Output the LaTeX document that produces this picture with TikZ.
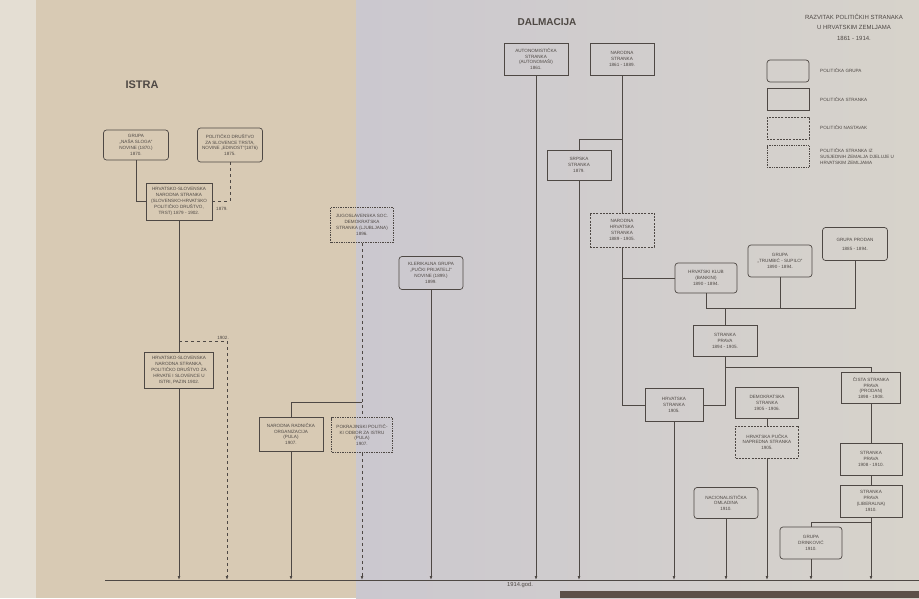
\documentclass[tikz,border=0pt]{standalone}
\usepackage{fontspec}
\setsansfont{Liberation Sans}
\usetikzlibrary{arrows.meta}
\definecolor{tinta}{RGB}{78,72,68}
\definecolor{papirL}{RGB}{216,202,180}
\definecolor{papirD}{RGB}{203,200,207}
\definecolor{papirR}{RGB}{215,211,203}
\definecolor{rub}{RGB}{228,222,211}
\definecolor{stol}{RGB}{92,80,72}

\begin{document}
\begin{tikzpicture}[x=1pt,y=-1pt,>=Latex,font=\sffamily,
  box/.style={draw=tinta,text=tinta,line width=0.7pt,align=center,inner sep=1pt,minimum width=64pt,minimum height=32pt,font=\sffamily\fontsize{4.6}{5.9}\selectfont},
  grupa/.style={box,rounded corners=3pt},
  stranka/.style={box},
  nastavak/.style={box,dash pattern=on 2pt off 1.2pt},
  susjedna/.style={box,densely dotted},
  spoj/.style={draw=tinta,line width=0.7pt},
  tok/.style={spoj,-{Latex[length=4pt,width=2.8pt]}},
  godina/.style={text=tinta,inner sep=1pt,font=\sffamily\fontsize{4.6}{5.9}\selectfont},
  legenda/.style={godina,align=left,anchor=west},
  naslov/.style={text=tinta,font=\sffamily\bfseries\fontsize{10}{12}\selectfont}]
\fill[rub] (0,0) rectangle (36,598); \fill[papirL] (36,0) rectangle (356,598);
\shade[left color=papirD,right color=papirR] (356,0) rectangle (919,598);
\fill[stol] (560,591) rectangle (919,598);
\useasboundingbox (0,0) rectangle (919,598);

\coordinate (kraj) at (105,580); \coordinate (krajD) at (919,580);
\draw[spoj] (kraj) -- (krajD);
\node[godina,anchor=north,font=\sffamily\fontsize{5.8}{7}\selectfont] (god) at (520,581) {1914.god.};

\node[naslov,font=\sffamily\bfseries\fontsize{11}{13}\selectfont] (istra) at (142,85) {ISTRA};
\node[grupa,minimum width=65pt,minimum height=30pt] (sloga) at (136,145) {GRUPA\\„NAŠA SLOGA“\\NOVINE (1870.)\\1870.};
\node[grupa,minimum width=65pt,minimum height=34pt] (edinost) at (230,145) {POLITIČKO DRUŠTVO\\ZA SLOVENCE TRSTA,\\NOVINE „EDINOST“(1876)\\1875.};
\node[stranka,minimum width=66pt,minimum height=37pt] (hsns) at (179,201.5) {HRVATSKO-SLOVENSKA\\NARODNA STRANKA\\(SLOVENSKO-HRVATSKO\\POLITIČKO DRUŠTVO,\\TRST) 1879 - 1902.};
\node[godina] (g1879) at (222,209) {1879.};
\draw[spoj] (sloga.south) |- (hsns.west); \draw[spoj,dashed] (edinost.south) |- (hsns.east);
\node[stranka,minimum width=69pt,minimum height=36pt] (hsnsIstra) at (179,370) {HRVATSKO-SLOVENSKA\\NARODNA STRANKA,\\POLITIČKO DRUŠTVO ZA\\HRVATE I SLOVENCE U\\ISTRI, PAZIN 1902.};
\draw[spoj] (hsns) -- (hsnsIstra); \draw[tok] (hsnsIstra.south) -- (hsnsIstra.south |- kraj);
\coordinate (r1902) at (179,341); \coordinate (o1902) at (227,341);
\draw[spoj,dashed] (r1902) -- (o1902); \draw[tok,dashed] (o1902) -- (o1902 |- kraj);
\node[godina,anchor=south east] (g1902) at ([xshift=3pt]o1902) {1902.};

\node[susjedna,minimum width=63pt,minimum height=35pt] (jsds) at (362,225) {JUGOSLAVENSKA SOC.\\DEMOKRATSKA\\STRANKA (LJUBLJANA)\\1896.};
\node[susjedna,minimum width=61pt,minimum height=35pt] (odbor) at (362,435) {POKRAJINSKI POLITIČ-\\KI ODBOR ZA ISTRU\\(PULA)\\1907.};
\node[stranka,minimum width=64pt,minimum height=34pt] (radnicka) at (291,434) {NARODNA RADNIČKA\\ORGANIZACIJA\\(PULA)\\1907.};
\coordinate (g1907) at (362,402);
\draw[spoj,dashed] (jsds) -- (odbor); \draw[spoj] (g1907) -| (radnicka.north);
\draw[tok] (radnicka.south) -- (radnicka.south |- kraj); \draw[tok,dashed] (odbor.south) -- (odbor.south |- kraj);
\node[grupa,minimum width=64pt,minimum height=33pt] (prijatelj) at (431,273) {KLERIKALNA GRUPA\\„PUČKI PRIJATELJ“\\NOVINE (1899.)\\1899.};
\draw[tok] (prijatelj.south) -- (prijatelj.south |- kraj);

\node[naslov] (dalmacija) at (547,22) {DALMACIJA};
\node[stranka] (autonomasi) at (536,59) {AUTONOMISTIČKA\\STRANKA\\(AUTONOMAŠI)\\1861.};
\node[stranka] (narodna) at (622,59) {NARODNA\\STRANKA\\1861 - 1889.};
\node[stranka,minimum height=30pt] (srpska) at (579,165) {SRPSKA\\STRANKA\\1879.};
\node[nastavak,minimum height=34pt] (nhs) at (622,230) {NARODNA\\HRVATSKA\\STRANKA\\1889 - 1905.};
\coordinate (g1879) at (622,139);
\draw[spoj] (narodna) -- (nhs); \draw[spoj] (g1879) -| (srpska.north);
\draw[tok] (autonomasi.south) -- (autonomasi.south |- kraj); \draw[tok] (srpska.south) -- (srpska.south |- kraj);

\node[grupa,minimum width=62pt,minimum height=30pt] (klub) at (706,278) {HRVATSKI KLUB\\(BANKINI)\\1890 - 1894.};
\node[grupa,minimum width=64pt,minimum height=32pt] (trumbic) at (780,261) {GRUPA\\„TRUMBIĆ - SUPILO“\\1890 - 1894.};
\node[grupa,minimum width=65pt,minimum height=33pt] (prodan) at (855,244) {GRUPA PRODAN\\[3pt]1885 - 1894.};
\node[stranka,minimum height=31pt] (prava94) at (725,341) {STRANKA\\PRAVA\\1894 - 1905.};
\node[stranka,minimum width=58pt,minimum height=33pt] (hrvatska) at (674,405) {HRVATSKA\\STRANKA\\1905.};
\coordinate (g1894) at (725,308); \coordinate (g1898) at (725,367);
\draw[spoj] (klub.south) |- (prodan.south |- g1894) -- (prodan.south);
\draw[spoj] (trumbic.south) -- (trumbic.south |- g1894); \draw[spoj] (g1894) -- (prava94.north);
\draw[spoj] (nhs.south) |- (hrvatska.west); \draw[spoj] (nhs.south |- klub.west) -- (klub.west);
\draw[spoj] (prava94.south) |- (hrvatska.east); \draw[tok] (hrvatska.south) -- (hrvatska.south |- kraj);

\node[stranka,minimum width=63pt,minimum height=31pt] (demokratska) at (767,403) {DEMOKRATSKA\\STRANKA\\1905 - 1906.};
\node[nastavak,minimum width=63pt,minimum height=32pt] (pucka) at (767,442) {HRVATSKA PUČKA\\NAPREDNA STRANKA\\1905.};
\draw[spoj] (demokratska) -- (pucka); \draw[tok] (pucka.south) -- (pucka.south |- kraj);
\node[stranka,minimum width=59pt,minimum height=31pt] (cista) at (871,388) {ČISTA STRANKA\\PRAVA\\(PRODAN)\\1898 - 1908.};
\node[stranka,minimum width=62pt,minimum height=32pt] (prava08) at (871,459) {STRANKA\\PRAVA\\1908 - 1910.};
\node[stranka,minimum width=62pt,minimum height=32pt] (liberalna) at (871,501) {STRANKA\\PRAVA\\(LIBERALNA)\\1910.};
\node[grupa,minimum width=62pt,minimum height=32pt] (drinkovic) at (811,543) {GRUPA\\DRINKOVIĆ\\1910.};
\node[grupa,minimum width=64pt,minimum height=31pt] (omladina) at (726,503) {NACIONALISTIČKA\\OMLADINA\\1910.};
\coordinate (g1910) at (871,522);
\draw[spoj] (g1898) -| (cista.north); \draw[spoj] (cista) -- (prava08) -- (liberalna);
\draw[spoj] (g1910) -| (drinkovic.north); \draw[tok] (liberalna.south) -- (liberalna.south |- kraj);
\draw[tok] (drinkovic.south) -- (drinkovic.south |- kraj); \draw[tok] (omladina.south) -- (omladina.south |- kraj);

\node[godina,align=center,font=\sffamily\fontsize{6}{10.5}\selectfont] (razvitak) at (854,27) {RAZVITAK POLITIČKIH STRANAKA\\U HRVATSKIM ZEMLJAMA\\1861 - 1914.};
\node[grupa,minimum width=42pt,minimum height=22pt] (lgrupa) at (788,71) {};
\node[stranka,minimum width=42pt,minimum height=22pt] (lstranka) at (788,99.5) {};
\node[nastavak,minimum width=42pt,minimum height=22pt] (lnastavak) at (788,128) {};
\node[susjedna,minimum width=42pt,minimum height=22pt] (lsusjedna) at (788,156.5) {};
\node[legenda] (tgrupa) at (819,71) {POLITIČKA GRUPA};
\node[legenda] (tstranka) at (819,99.5) {POLITIČKA STRANKA};
\node[legenda] (tnastavak) at (819,128) {POLITIČKI NASTAVAK};
\node[legenda] (tsusjedna) at (819,156.5) {POLITIČKA STRANKA IZ\\SUSJEDNIH ZEMALJA DJELUJE U\\HRVATSKIM ZEMLJAMA};
\end{tikzpicture}
\end{document}
